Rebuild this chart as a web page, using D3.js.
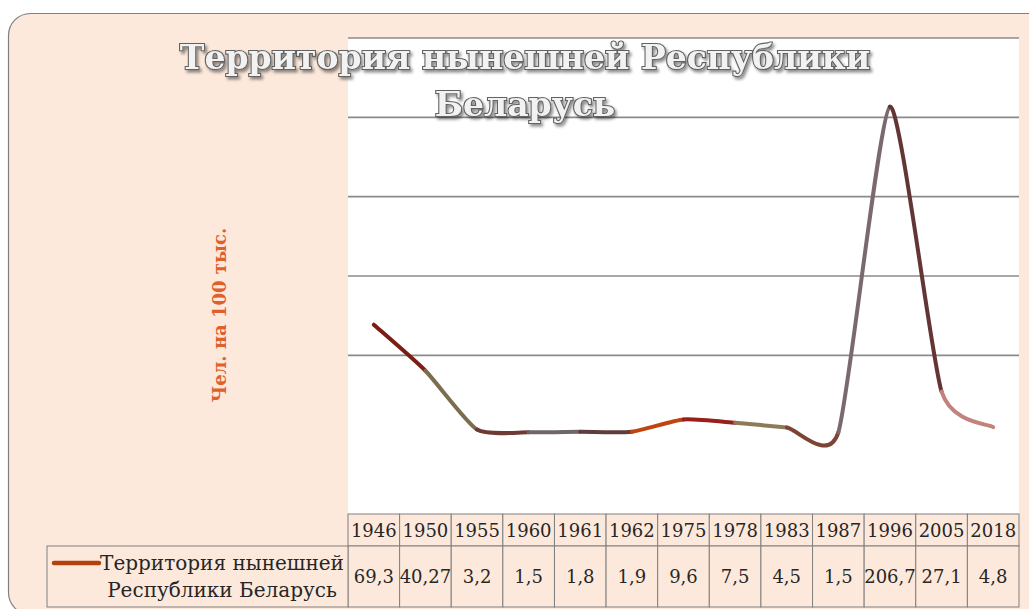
<!DOCTYPE html>
<html>
<head>
<meta charset="utf-8">
<script src="https://cdn.jsdelivr.net/npm/d3@7"></script>
<style>
  body { margin: 0; background: #fff; }
  svg { display: block; }
  text { font-family: "DejaVu Serif", "Liberation Serif", serif; }
</style>
</head>
<body>
<svg id="chart" width="1029" height="609"></svg>
<script>
// Chart data
const years = ['1946', '1950', '1955', '1960', '1961', '1962', '1975', '1978', '1983', '1987', '1996', '2005', '2018'];
const values = [69.3, 40.27, 3.2, 1.5, 1.8, 1.9, 9.6, 7.5, 4.5, 1.5, 206.7, 27.1, 4.8];
const yTicks = [50, 100, 150, 200, 250];
const titleLines = ['Территория нынешней Республики', 'Беларусь'];
const seriesLines = ['Территория нынешней', 'Республики Беларусь'];
const yLabel = 'Чел. на 100 тыс.';

// one colour per segment (Excel "vary colours by point")
const segColors = ['#7b1d15', '#7d6d4f', '#6e3a36', '#6f6669', '#5f3c3e', '#c0450f',
                   '#99201a', '#8d7b58', '#7b4434', '#7b6a6d', '#633636', '#c2837c'];

const svg = d3.select('#chart');
const peach = '#fde9db';

// layout
const plot = { left: 348, right: 1019, top: 38, bottom: 514 };
const table = { legendLeft: 47, headBottom: 546, bottom: 607 };

// chart background
svg.append('rect')
  .attr('x', 8.5).attr('y', 13.5)
  .attr('width', 1080).attr('height', 601)
  .attr('rx', 22)
  .attr('fill', peach)
  .attr('stroke', '#7f7f7f')
  .attr('stroke-width', 1.2);

// plot area
svg.append('rect')
  .attr('x', plot.left).attr('y', plot.top)
  .attr('width', plot.right - plot.left).attr('height', plot.bottom - plot.top)
  .attr('fill', '#fff');

const x = d3.scaleBand().domain(years).range([plot.left, plot.right]);
const y = d3.scaleLinear().domain([-50, 250]).range([plot.bottom, plot.top]);

// gridlines
svg.append('g')
  .selectAll('line')
  .data(yTicks)
  .enter()
  .append('line')
  .attr('x1', plot.left).attr('x2', plot.right)
  .attr('y1', d => y(d)).attr('y2', d => y(d))
  .attr('stroke', '#8a8a8a')
  .attr('stroke-width', 1.6);

// smoothed line, drawn one segment at a time so each can have its own colour
const pts = values.map((v, i) => [x(years[i]) + x.bandwidth() / 2, y(v)]);
const k = 1 / 10;
const segs = d3.range(pts.length - 1).map(i => {
  const p0 = pts[Math.max(i - 1, 0)];
  const p1 = pts[i];
  const p2 = pts[i + 1];
  const p3 = pts[Math.min(i + 2, pts.length - 1)];
  const p = d3.path();
  p.moveTo(p1[0], p1[1]);
  p.bezierCurveTo(
    p1[0] + (p2[0] - p0[0]) * k, p1[1] + (p2[1] - p0[1]) * k,
    p2[0] - (p3[0] - p1[0]) * k, p2[1] - (p3[1] - p1[1]) * k,
    p2[0], p2[1]);
  return p.toString();
});

svg.append('g')
  .selectAll('path')
  .data(segs)
  .enter()
  .append('path')
  .attr('d', d => d)
  .attr('fill', 'none')
  .attr('stroke', (d, i) => segColors[i])
  .attr('stroke-width', 4)
  .attr('stroke-linecap', 'round');

// data table
const tbl = svg.append('g');
const cellStroke = '#808080';

tbl.selectAll('rect.head')
  .data(years)
  .enter()
  .append('rect')
  .attr('class', 'head')
  .attr('x', d => x(d)).attr('y', plot.bottom)
  .attr('width', x.bandwidth()).attr('height', table.headBottom - plot.bottom)
  .attr('fill', peach).attr('stroke', cellStroke);

tbl.selectAll('rect.val')
  .data(years)
  .enter()
  .append('rect')
  .attr('class', 'val')
  .attr('x', d => x(d)).attr('y', table.headBottom)
  .attr('width', x.bandwidth()).attr('height', table.bottom - table.headBottom)
  .attr('fill', peach).attr('stroke', cellStroke);

tbl.append('rect')
  .attr('x', table.legendLeft).attr('y', table.headBottom)
  .attr('width', plot.left - table.legendLeft).attr('height', table.bottom - table.headBottom)
  .attr('fill', peach).attr('stroke', cellStroke);

tbl.selectAll('text.head')
  .data(years)
  .enter()
  .append('text')
  .attr('class', 'head')
  .attr('x', d => x(d) + x.bandwidth() / 2)
  .attr('y', 537)
  .attr('text-anchor', 'middle')
  .attr('font-size', 18)
  .attr('fill', '#262626')
  .text(d => d);

tbl.selectAll('text.val')
  .data(values)
  .enter()
  .append('text')
  .attr('class', 'val')
  .attr('x', (d, i) => x(years[i]) + x.bandwidth() / 2)
  .attr('y', 583)
  .attr('text-anchor', 'middle')
  .attr('font-size', 18)
  .attr('fill', '#262626')
  .text(d => String(d).replace('.', ','));

// legend key and series name
tbl.append('line')
  .attr('x1', 54).attr('x2', 99)
  .attr('y1', 563).attr('y2', 563)
  .attr('stroke', '#b5400f')
  .attr('stroke-width', 4.5)
  .attr('stroke-linecap', 'round');

tbl.selectAll('text.series')
  .data(seriesLines)
  .enter()
  .append('text')
  .attr('class', 'series')
  .attr('x', 222)
  .attr('y', (d, i) => 570 + i * 27)
  .attr('text-anchor', 'middle')
  .attr('font-size', 20)
  .attr('fill', '#262626')
  .text(d => d);

// y axis title
svg.append('text')
  .attr('transform', 'translate(226,315) rotate(-90)')
  .attr('text-anchor', 'middle')
  .attr('font-size', 18)
  .attr('font-weight', 'bold')
  .attr('fill', '#e0602c')
  .text(yLabel);

// chart title with outline and shadow
const defs = svg.append('defs');
const f = defs.append('filter').attr('id', 'shadow')
  .attr('x', '-10%').attr('y', '-20%').attr('width', '120%').attr('height', '150%');
f.append('feDropShadow')
  .attr('dx', 2).attr('dy', 2.5).attr('stdDeviation', 1.5)
  .attr('flood-color', '#000').attr('flood-opacity', 0.45);

svg.append('g')
  .attr('filter', 'url(#shadow)')
  .selectAll('text')
  .data(titleLines)
  .enter()
  .append('text')
  .attr('x', 525)
  .attr('y', (d, i) => 69 + i * 47)
  .attr('text-anchor', 'middle')
  .attr('font-size', 33)
  .attr('font-weight', 'bold')
  .attr('fill', '#f2f2f2')
  .attr('stroke', '#626262')
  .attr('stroke-width', 2.2)
  .attr('paint-order', 'stroke')
  .text(d => d);
</script>
</body>
</html>
